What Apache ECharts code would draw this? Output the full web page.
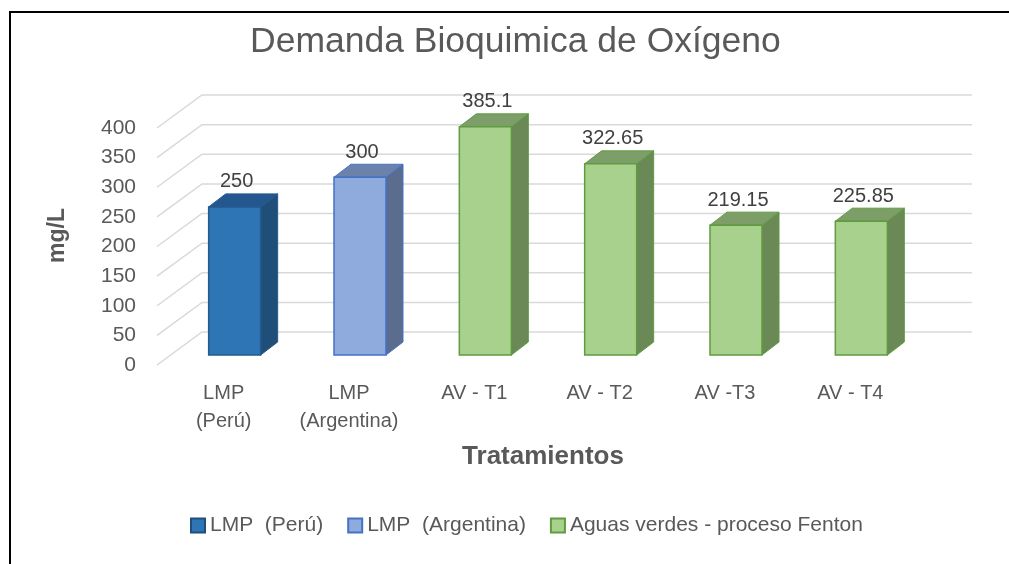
<!DOCTYPE html>
<html>
<head>
<meta charset="utf-8">
<script src="https://cdn.jsdelivr.net/npm/echarts@6/dist/echarts.min.js"></script>
<style>
  html, body { margin: 0; padding: 0; background: #fff; }
  #chart { width: 1009px; height: 564px; }
</style>
</head>
<body>
<div id="chart"></div>
<script>
// datos
const categories = ['LMP\n(Perú)', 'LMP\n(Argentina)', 'AV - T1', 'AV - T2', 'AV -T3', 'AV - T4'];
const peruValues = [250];
const argentinaValues = [300];
const fentonValues = [385.1, 322.65, 219.15, 225.85];
const yTicks = [0, 50, 100, 150, 200, 250, 300, 350, 400];

const FONT = '"Liberation Sans", Arial, sans-serif';
const GREY = '#595959';

// profundidad 3D (pared y barras)
const WALL_DX = 45, WALL_DY = 33, WALL_EXTRA = 18;
const BAR_W = 52, BAR_DX = 17, BAR_DY = 13, SHIFT_X = 15, SHIFT_Y = 10;

function renderWall(params, api) {
  const cs = params.coordSys;
  const y = api.coord([0, api.value(1)])[1];
  const xl = cs.x;
  return {
    type: 'polyline',
    shape: { points: [[xl, y], [xl + WALL_DX, y - WALL_DY], [cs.x + cs.width + WALL_DX + WALL_EXTRA, y - WALL_DY]] },
    style: { stroke: '#d9d9d9', lineWidth: 1.5, fill: null }
  };
}

function makeBar(front, side, top, stroke) {
  return function (params, api) {
    const cat = api.value(0), v = api.value(1);
    const pt = api.coord([cat, v]), pb = api.coord([cat, 0]);
    const cx = pt[0] + SHIFT_X;
    const x0 = cx - BAR_W / 2, x1 = cx + BAR_W / 2;
    const yt = pt[1] - SHIFT_Y, yb = pb[1] - SHIFT_Y;
    return {
      type: 'group',
      children: [
        { type: 'polygon', shape: { points: [[x1, yb], [x1, yt], [x1 + BAR_DX, yt - BAR_DY], [x1 + BAR_DX, yb - BAR_DY]] },
          style: { fill: side, stroke: stroke, lineWidth: 1 } },
        { type: 'polygon', shape: { points: [[x0, yt], [x1, yt], [x1 + BAR_DX, yt - BAR_DY], [x0 + BAR_DX, yt - BAR_DY]] },
          style: { fill: top, stroke: stroke, lineWidth: 1 } },
        { type: 'rect', shape: { x: x0, y: yt, width: BAR_W, height: yb - yt },
          style: { fill: front, stroke: stroke, lineWidth: 1.5 } },
        { type: 'text', x: cx + 2, y: yt - BAR_DY - 12,
          style: { text: String(v), fill: '#404040', fontSize: 20, fontFamily: FONT, align: 'center', verticalAlign: 'middle' } }
      ]
    };
  };
}

const chart = echarts.init(document.getElementById('chart'));
chart.setOption({
  backgroundColor: '#fff',
  animation: false,
  title: {
    text: 'Demanda Bioquimica de Oxígeno',
    left: 245,
    top: 19,
    textStyle: { fontSize: 35.5, fontWeight: 'normal', color: GREY, fontFamily: FONT }
  },
  legend: {
    left: 185,
    top: 510,
    icon: 'rect',
    itemWidth: 14,
    itemHeight: 14,
    itemGap: 24,
    textStyle: { fontSize: 21, color: GREY, fontFamily: FONT },
    data: ['LMP  (Perú)', 'LMP  (Argentina)', 'Aguas verdes - proceso Fenton']
  },
  grid: { left: 157, right: 100, top: 128, bottom: 199 },
  xAxis: {
    type: 'category',
    data: categories,
    name: 'Tratamientos',
    nameLocation: 'middle',
    nameGap: 79,
    nameTextStyle: { fontSize: 26, fontWeight: 'bold', color: GREY, fontFamily: FONT, padding: [0, 0, 0, 20] },
    axisLine: { show: false },
    axisTick: { show: false },
    axisLabel: { interval: 0, fontSize: 20, color: GREY, fontFamily: FONT, lineHeight: 28, margin: 14, padding: [0, 0, 0, 8] }
  },
  yAxis: {
    type: 'value',
    min: 0,
    max: 400,
    interval: 50,
    name: 'mg/L',
    nameLocation: 'middle',
    nameRotate: 90,
    nameGap: 88,
    nameTextStyle: { fontSize: 23, fontWeight: 'bold', color: GREY, fontFamily: FONT, padding: [0, 0, 0, 22] },
    axisLine: { show: false },
    axisTick: { show: false },
    splitLine: { show: false },
    axisLabel: { fontSize: 21, color: GREY, fontFamily: FONT, margin: 21 }
  },
  graphic: [
    { type: 'line', shape: { x1: 9, y1: 12, x2: 1009, y2: 12 }, style: { stroke: '#000', lineWidth: 2 } },
    { type: 'line', shape: { x1: 10, y1: 12, x2: 10, y2: 564 }, style: { stroke: '#000', lineWidth: 2 } }
  ],
  series: [
    {
      type: 'custom',
      name: 'wall',
      silent: true,
      z: 1,
      renderItem: renderWall,
      encode: { x: 0, y: 1 },
      data: yTicks.map(v => [0, v])
    },
    {
      type: 'custom',
      name: 'LMP  (Perú)',
      z: 3,
      itemStyle: { color: '#2E75B6', borderColor: '#1F4E79', borderWidth: 1 },
      renderItem: makeBar('#2E75B6', '#1F4E79', '#23578d', '#25598f'),
      encode: { x: 0, y: 1 },
      data: peruValues.map((v, i) => [i, v])
    },
    {
      type: 'custom',
      name: 'LMP  (Argentina)',
      z: 3,
      itemStyle: { color: '#8FAADC', borderColor: '#4472C4', borderWidth: 1 },
      renderItem: makeBar('#8FAADC', '#5A6D8F', '#6B82AD', '#4472C4'),
      encode: { x: 0, y: 1 },
      data: argentinaValues.map((v, i) => [i + 1, v])
    },
    {
      type: 'custom',
      name: 'Aguas verdes - proceso Fenton',
      z: 3,
      itemStyle: { color: '#A9D18E', borderColor: '#5E9C3F', borderWidth: 1 },
      renderItem: makeBar('#A9D18E', '#6A8957', '#7E9E69', '#5E9C3F'),
      encode: { x: 0, y: 1 },
      data: fentonValues.map((v, i) => [i + 2, v])
    }
  ]
});
</script>
</body>
</html>
